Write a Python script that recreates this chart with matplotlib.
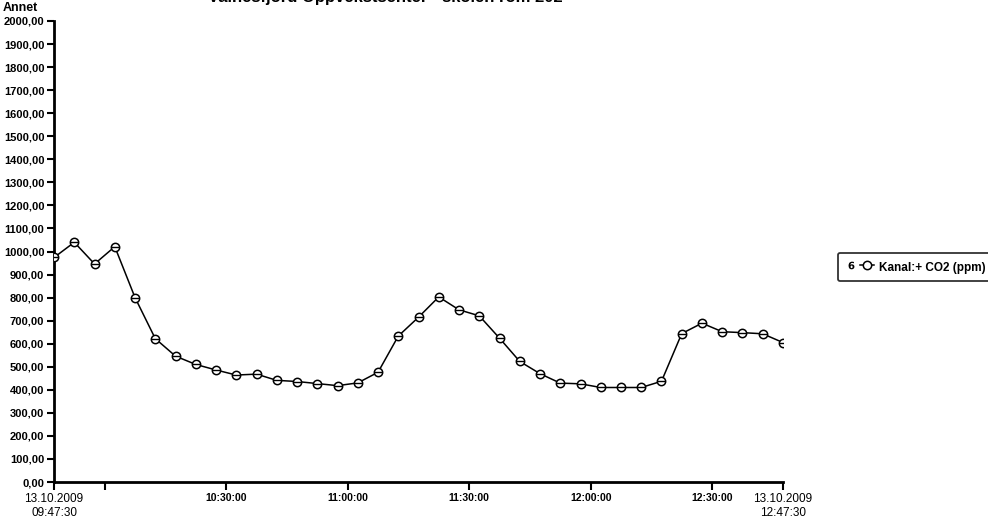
import matplotlib
matplotlib.use("Agg")
import matplotlib.pyplot as plt
from matplotlib.lines import Line2D
from matplotlib.legend_handler import HandlerTuple
import numpy as np
import pandas as pd

plt.rcParams["font.family"] = ["Liberation Sans", "DejaVu Sans"]
plt.rcParams["mathtext.default"] = "regular"

# === Data (CO2, 5-minute logging) ===
start_time = "2009-10-13 09:47:30"
end_time = "2009-10-13 12:47:30"
co2_ppm = [974, 1040, 946, 1021, 800, 622, 546, 510, 486, 464,
           468, 441, 436, 427, 418, 430, 476, 633, 715, 803,
           747, 721, 624, 523, 470, 429, 426, 410, 410, 410,
           437, 644, 689, 652, 648, 643, 605]
times = pd.date_range(start_time, periods=len(co2_ppm), freq="5min")

tick_times = pd.to_datetime(["2009-10-13 09:47:30", "2009-10-13 10:00:00",
                             "2009-10-13 10:30:00", "2009-10-13 11:00:00",
                             "2009-10-13 11:30:00", "2009-10-13 12:00:00",
                             "2009-10-13 12:30:00", "2009-10-13 12:47:30"])
tick_labels = ["13.10.2009\n09:47:30", "", "10:30:00", "11:00:00",
               "11:30:00", "12:00:00", "12:30:00", "13.10.2009\n12:47:30"]
y_ticks = np.arange(0, 2001, 100)

title = "Valnesfjord Oppvekstsenter - skolen rom 202"
series_label = "Kanal:+ CO2 (ppm)"
series_no = "6"

# === Figure ===
fig = plt.figure(figsize=(9.88, 5.25), dpi=100)
ax = fig.add_axes([0.0547, 0.0819, 0.7378, 0.8781])

ax.plot(times, co2_ppm, color="black", lw=1.1, zorder=2)
ax.plot(times, co2_ppm, ls="none", marker="o", ms=6, mfc="white",
        mec="black", mew=1.1, zorder=3)
ax.plot(times, co2_ppm, ls="none", marker="_", ms=6, mec="black",
        mew=1.0, zorder=4)

ax.set_xlim(pd.Timestamp(start_time), pd.Timestamp(end_time))
ax.set_ylim(0, 2000)
ax.set_yticks(y_ticks)
ax.set_yticklabels([f"{v:.2f}".replace(".", ",") for v in y_ticks],
                   fontsize=8, fontweight="bold")
ax.set_xticks(tick_times)
ax.set_xticklabels(tick_labels, fontsize=7.5, fontweight="bold")
for i, lab in enumerate(ax.get_xticklabels()):
    if i in (0, len(tick_labels) - 1):
        lab.set_fontsize(8.5)
        lab.set_fontweight("normal")

ax.tick_params(axis="both", direction="out", length=5, width=1.5,
               colors="black", pad=2)
ax.tick_params(axis="x", length=6)
ax.spines["top"].set_visible(False)
ax.spines["right"].set_visible(False)
ax.spines["left"].set_linewidth(2)
ax.spines["bottom"].set_linewidth(2)
ax.grid(False)

# === Texts ===
fig.text(0.003, 0.984, "Annet", fontsize=9, fontweight="bold", va="center")
fig.text(0.39, 1.004, title, fontsize=12, fontweight="bold",
         ha="center", va="center")

# === Legend (box runs to the right edge, as in the scan) ===
num_handle = Line2D([], [], ls="none", marker=r"$\mathbf{%s}$" % series_no,
                    ms=5.5, mfc="black", mec="black", mew=0)
line_handle = Line2D([], [], color="black", lw=1.1, marker="o", ms=6,
                     mfc="white", mec="black", mew=1.1)
leg = fig.legend([(num_handle, line_handle)], [series_label],
                 handler_map={tuple: HandlerTuple(ndivide=None, pad=0.1)},
                 loc="center left", bbox_to_anchor=(0.848, 0.491),
                 prop={"weight": "bold", "size": 8.5}, frameon=True,
                 fancybox=True, handlelength=2.6, handleheight=1.8,
                 handletextpad=0.4, borderpad=0.5, borderaxespad=0)
leg.get_frame().set_edgecolor("black")
leg.get_frame().set_linewidth(1.3)

fig.savefig("out.png", dpi=100)
